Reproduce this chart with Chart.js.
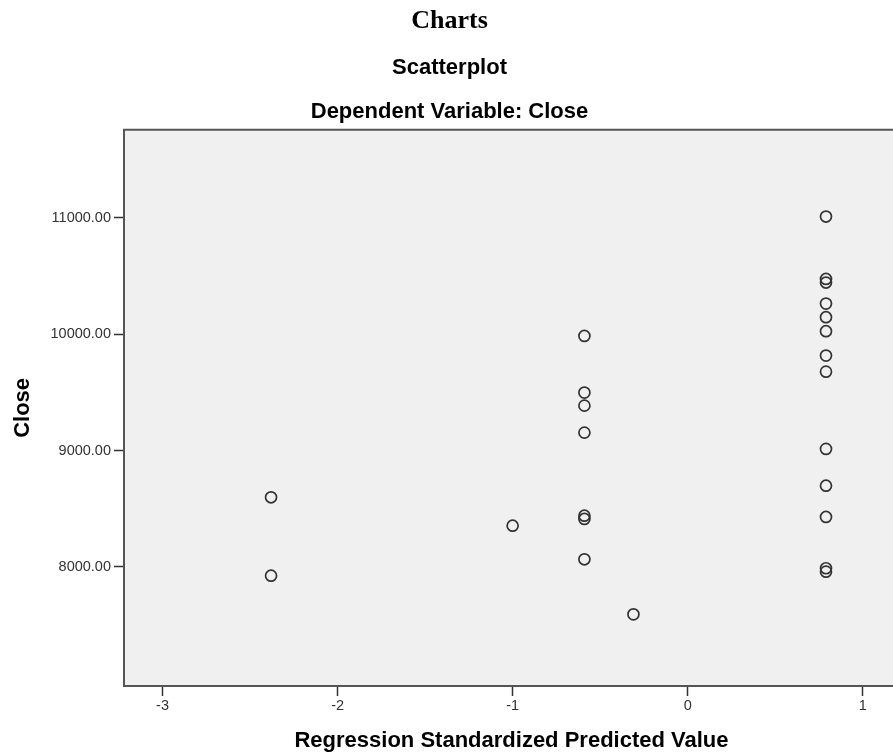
<!DOCTYPE html>
<html>
<head>
<meta charset="utf-8">
<script src="https://cdn.jsdelivr.net/npm/chart.js@4"></script>
<style>
  html, body { margin: 0; padding: 0; background: #ffffff; overflow: hidden; width: 893px; height: 756px; }
  #wrap { position: relative; width: 893px; height: 756px; overflow: hidden; }
  #heading { position: absolute; left: 0; top: 7px; width: 899px; text-align: center;
             font: bold 26px "Liberation Serif", "Times New Roman", serif; line-height: 26px; color: #000; }
  canvas { position: absolute; left: 0; top: 0; }
</style>
</head>
<body>
<div id="wrap">
  <canvas id="c" width="899" height="756"></canvas>
  <div id="heading">Charts</div>
</div>
<script>
// Regression standardized predicted value (x) and Close (y) for each case
const predictedValues = [
  -2.38, -2.38,
  -1.00,
  -0.59, -0.59, -0.59, -0.59, -0.59, -0.59, -0.59,
  -0.31,
  0.79, 0.79, 0.79, 0.79, 0.79, 0.79, 0.79, 0.79, 0.79, 0.79, 0.79, 0.79, 0.79
];
const closeValues = [
  8598, 7924,
  8354,
  9985, 9498, 9386, 9154, 8440, 8412, 8065,
  7592,
  11011, 10475, 10444, 10263, 10146, 10026, 9816, 9678, 9014, 8698, 8429, 7988, 7959
];
const xTickValues = [-3, -2, -1, 0, 1];
const yTickValues = [8000, 9000, 10000, 11000];
const xRange = [-3.22, 1.207];
const yRange = [6976, 11757];

const points = predictedValues.map((x, i) => ({ x: x, y: closeValues[i] }));

const plotBox = {
  id: 'plotBox',
  beforeDraw(chart) {
    const { ctx, chartArea: a } = chart;
    ctx.save();
    ctx.fillStyle = '#f0f0f0';
    ctx.fillRect(a.left, a.top, a.right - a.left + 2, a.bottom - a.top);
    ctx.restore();
  },
  afterDraw(chart) {
    const { ctx, chartArea: a } = chart;
    ctx.save();
    ctx.strokeStyle = '#555555';
    ctx.lineWidth = 2;
    ctx.beginPath();
    ctx.moveTo(a.right + 2, a.top);
    ctx.lineTo(a.left, a.top);
    ctx.lineTo(a.left, a.bottom);
    ctx.lineTo(a.right + 2, a.bottom);
    ctx.stroke();
    ctx.restore();
  }
};

const tickFont = { family: '"Liberation Sans", Arial, sans-serif', size: 14.5 };
const titleFont = { family: '"Liberation Sans", Arial, sans-serif', size: 22, weight: 'bold' };

new Chart(document.getElementById('c'), {
  type: 'scatter',
  data: {
    datasets: [{
      data: points,
      pointRadius: 5.5,
      pointHoverRadius: 5.5,
      pointBorderWidth: 1.7,
      pointBorderColor: '#333333',
      pointBackgroundColor: 'rgba(0,0,0,0)'
    }]
  },
  options: {
    responsive: false,
    devicePixelRatio: 1,
    animation: false,
    layout: { padding: 0, autoPadding: false },
    plugins: {
      legend: { display: false },
      tooltip: { enabled: false },
      title: {
        display: true, text: 'Scatterplot', color: '#000', font: titleFont,
        padding: { top: 55, bottom: 0 }
      },
      subtitle: {
        display: true, text: 'Dependent Variable: Close', color: '#000', font: titleFont,
        padding: { top: 17, bottom: 5 }
      }
    },
    scales: {
      x: {
        type: 'linear', position: 'bottom',
        min: xRange[0], max: xRange[1],
        afterFit(s) { s.height = 70; },
        afterBuildTicks(s) { s.ticks = xTickValues.map(v => ({ value: v })); },
        border: { display: false },
        grid: { display: true, drawOnChartArea: false, drawTicks: true, tickLength: 10, tickColor: '#333', tickWidth: 1.5 },
        ticks: { color: '#333', font: tickFont, padding: 1.5, callback: v => String(v) },
        title: { display: true, text: 'Regression Standardized Predicted Value', color: '#000', font: titleFont, padding: { top: 0, bottom: 2 } }
      },
      y: {
        type: 'linear', position: 'left',
        min: yRange[0], max: yRange[1],
        afterFit(s) { s.width = 124; },
        afterBuildTicks(s) { s.ticks = yTickValues.map(v => ({ value: v })); },
        border: { display: false },
        grid: { display: true, drawOnChartArea: false, drawTicks: true, tickLength: 10, tickColor: '#333', tickWidth: 1.5 },
        ticks: { color: '#333', font: tickFont, padding: 3, callback: v => Number(v).toFixed(2) },
        title: { display: true, text: 'Close', color: '#000', font: titleFont, padding: { top: 10, bottom: 0 } }
      }
    }
  },
  plugins: [plotBox]
});
</script>
</body>
</html>
